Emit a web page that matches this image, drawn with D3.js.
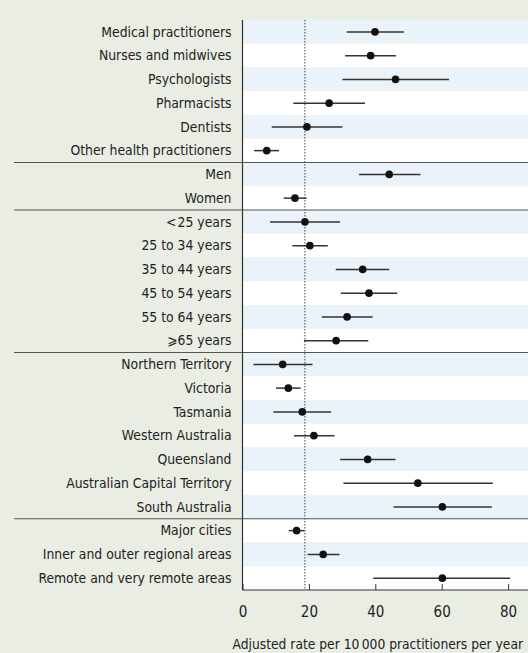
<!DOCTYPE html>
<html>
<head>
<meta charset="utf-8">
<script src="https://cdn.jsdelivr.net/npm/d3@7"></script>
<style>
  body { margin: 0; background: #e9ede4; }
  svg { display: block; }
  text { font-family: "DejaVu Sans Condensed", sans-serif; fill: #222; }
</style>
</head>
<body>
<div id="chart"></div>
<script>
// categories, top to bottom
const labels = [
    "Medical practitioners", "Nurses and midwives", "Psychologists", "Pharmacists", "Dentists", "Other health practitioners",
    "Men", "Women",
    "<\u200a25 years", "25 to 34 years", "35 to 44 years", "45 to 54 years", "55 to 64 years", "\u2a7e65 years",
    "Northern Territory", "Victoria", "Tasmania", "Western Australia", "Queensland", "Australian Capital Territory", "South Australia",
    "Major cities", "Inner and outer regional areas", "Remote and very remote areas"
]
// group sizes (a separator goes after each group except the last)
const groupSizes = [6, 2, 6, 7, 3]

// adjusted rate and 95% CI
const rate = [39.9, 38.6, 46.1, 26.1, 19.4, 7.3, 44.2, 15.8, 18.8, 20.3, 36.2, 38.1, 31.5, 28.2, 12.1, 13.8, 18.0, 21.5, 37.7, 52.8, 60.2, 16.3, 24.3, 60.2]
const lower = [31.4, 30.9, 30.1, 15.3, 8.8, 3.5, 35.1, 12.4, 8.3, 15.0, 28.1, 29.6, 23.9, 18.5, 3.3, 10.1, 9.3, 15.5, 29.4, 30.4, 45.5, 13.9, 19.6, 39.4]
const upper = [48.6, 46.2, 62.2, 36.9, 30.1, 11.0, 53.6, 19.3, 29.4, 25.7, 44.2, 46.6, 39.2, 37.9, 21.1, 17.5, 26.7, 27.7, 46.1, 75.4, 75.1, 18.7, 29.2, 80.6]

const overallRate = 18.8
const xTicks = [0, 20, 40, 60, 80]

const width = 528, height = 653
const margin = { top: 20, right: 0, bottom: 63, left: 242.5 }

const svg = d3.select("#chart")
    .append("svg")
    .attr("width", width)
    .attr("height", height)

const x = d3.scaleLinear()
    .domain([0, 86])
    .range([margin.left, margin.left + 86 * 3.32])

const y = d3.scaleBand()
    .domain(d3.range(labels.length))
    .range([margin.top, height - margin.bottom])

// row stripes
svg.selectAll("rect.row")
    .data(labels)
    .join("rect")
    .attr("class", "row")
    .attr("x", margin.left)
    .attr("y", (d, i) => y(i))
    .attr("width", width - margin.left)
    .attr("height", y.bandwidth())
    .attr("fill", (d, i) => i % 2 === 0 ? "#eaf2fa" : "#ffffff")

// overall rate line
svg.append("line")
    .attr("x1", x(overallRate)).attr("x2", x(overallRate))
    .attr("y1", margin.top).attr("y2", height - margin.bottom)
    .attr("stroke", "#444")
    .attr("stroke-width", 1)
    .attr("stroke-dasharray", "1.5,1.5")

// group separators
let acc = 0
const seps = []
groupSizes.slice(0, -1).forEach(n => { acc += n; seps.push(acc) })
svg.selectAll("line.sep")
    .data(seps)
    .join("line")
    .attr("class", "sep")
    .attr("x1", 14).attr("x2", width)
    .attr("y1", d => y(d)).attr("y2", d => y(d))
    .attr("stroke", "#555")
    .attr("stroke-width", 1.2)

// confidence intervals
svg.selectAll("line.ci")
    .data(labels)
    .join("line")
    .attr("class", "ci")
    .attr("x1", (d, i) => x(lower[i]))
    .attr("x2", (d, i) => x(upper[i]))
    .attr("y1", (d, i) => y(i) + y.bandwidth() / 2)
    .attr("y2", (d, i) => y(i) + y.bandwidth() / 2)
    .attr("stroke", "#333")
    .attr("stroke-width", 1.5)

// points
svg.selectAll("circle.pt")
    .data(labels)
    .join("circle")
    .attr("class", "pt")
    .attr("cx", (d, i) => x(rate[i]))
    .attr("cy", (d, i) => y(i) + y.bandwidth() / 2)
    .attr("r", 3.8)
    .attr("fill", "#111")

// category labels
svg.selectAll("text.lab")
    .data(labels)
    .join("text")
    .attr("class", "lab")
    .attr("x", margin.left - 11)
    .attr("y", (d, i) => y(i) + y.bandwidth() / 2)
    .attr("dy", "0.35em")
    .attr("text-anchor", "end")
    .style("font-size", "13.8px")
    .text(d => d)

// y axis line
svg.append("line")
    .attr("x1", margin.left).attr("x2", margin.left)
    .attr("y1", margin.top).attr("y2", height - margin.bottom)
    .attr("stroke", "#333")
    .attr("stroke-width", 1.2)

// x axis, ticks pointing up
const xAxis = svg.append("g")
    .attr("transform", `translate(0,${height - margin.bottom})`)
    .call(d3.axisBottom(x).tickValues(xTicks).tickSizeInner(-6).tickSizeOuter(0).tickPadding(16))
xAxis.select(".domain").attr("stroke", "#333").attr("stroke-width", 1.2)
xAxis.selectAll(".tick line").attr("stroke", "#333")
xAxis.selectAll(".tick text")
    .style("font-size", "15px")
    .style("font-family", "'DejaVu Sans Condensed', sans-serif")
    .attr("fill", "#222")
xAxis.select(".domain").attr("d", `M${margin.left},0H${width}`)

svg.append("text")
    .attr("x", 523)
    .attr("y", 649)
    .attr("text-anchor", "end")
    .style("font-size", "13.7px")
    .text("Adjusted rate per 10\u2009000 practitioners per year")
</script>
</body>
</html>
